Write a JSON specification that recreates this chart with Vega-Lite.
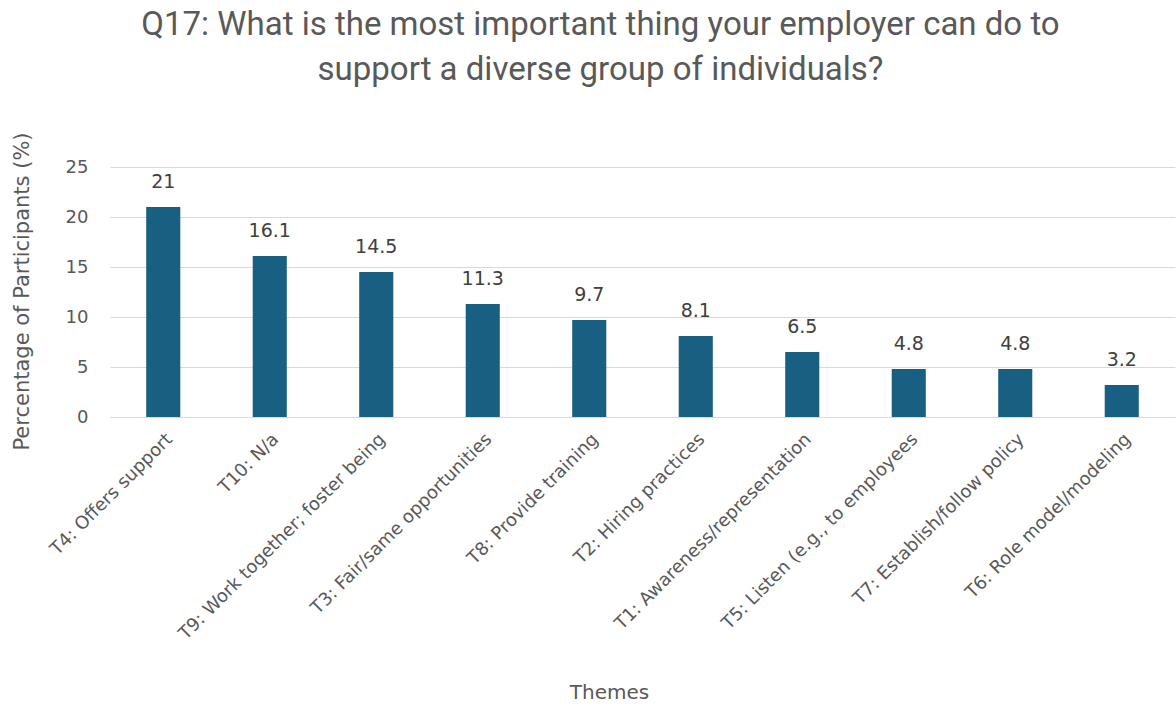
{
  "$schema": "https://vega.github.io/schema/vega-lite/v6.json",
  "autosize": {"type": "none"},
  "width": 1065,
  "height": 250,
  "padding": {"left": 110, "top": 167, "right": 1, "bottom": 290},
  "background": "white",
  "title": {
    "text": ["Q17: What is the most important thing your employer can do to", "support a diverse group of individuals?"],
    "font": "Roboto",
    "fontSize": 33,
    "fontWeight": "normal",
    "color": "#595959",
    "lineHeight": 45,
    "anchor": "middle",
    "dx": -42,
    "offset": 45
  },
  "data": {
    "values": [
      {"theme": "T4: Offers support", "pct": 21},
      {"theme": "T10: N/a", "pct": 16.1},
      {"theme": "T9: Work together; foster being", "pct": 14.5},
      {"theme": "T3: Fair/same opportunities", "pct": 11.3},
      {"theme": "T8: Provide training", "pct": 9.7},
      {"theme": "T2: Hiring practices", "pct": 8.1},
      {"theme": "T1: Awareness/representation", "pct": 6.5},
      {"theme": "T5: Listen (e.g., to employees", "pct": 4.8},
      {"theme": "T7: Establish/follow policy", "pct": 4.8},
      {"theme": "T6: Role model/modeling", "pct": 3.2}
    ]
  },
  "encoding": {
    "x": {
      "field": "theme",
      "type": "nominal",
      "sort": null,
      "scale": {"paddingInner": 0.68, "paddingOuter": 0.34},
      "axis": {
        "title": "Themes",
        "titleFont": "DejaVu Sans",
        "titleFontSize": 20,
        "titleFontWeight": "normal",
        "titleColor": "#595959",
        "titleX": 499,
        "titleY": 275,
        "titleBaseline": "middle",
        "labelAngle": -45,
        "labelFont": "DejaVu Sans",
        "labelFontSize": 18,
        "labelColor": "#595959",
        "labelPadding": 13,
        "labelLimit": 400,
        "ticks": false,
        "domainColor": "#d9d9d9",
        "domainWidth": 1
      }
    },
    "y": {
      "field": "pct",
      "type": "quantitative",
      "scale": {"domain": [0, 25]},
      "axis": {
        "title": "Percentage of Participants (%)",
        "titleFont": "DejaVu Sans",
        "titleFontSize": 21,
        "titleFontWeight": "normal",
        "titleColor": "#595959",
        "titleX": -88,
        "titleY": 124,
        "titleBaseline": "middle",
        "titleAngle": -90,
        "values": [0, 5, 10, 15, 20, 25],
        "labelFont": "DejaVu Sans",
        "labelFontSize": 18,
        "labelColor": "#595959",
        "labelPadding": 22,
        "ticks": false,
        "domain": false,
        "gridColor": "#d9d9d9",
        "gridWidth": 1
      }
    }
  },
  "layer": [
    {"mark": {"type": "bar", "color": "#185f82"}},
    {
      "mark": {"type": "text", "baseline": "bottom", "dy": -15, "font": "DejaVu Sans", "fontSize": 19, "color": "#404040"},
      "encoding": {"text": {"field": "pct", "type": "quantitative"}}
    }
  ],
  "config": {"view": {"stroke": null}}
}
